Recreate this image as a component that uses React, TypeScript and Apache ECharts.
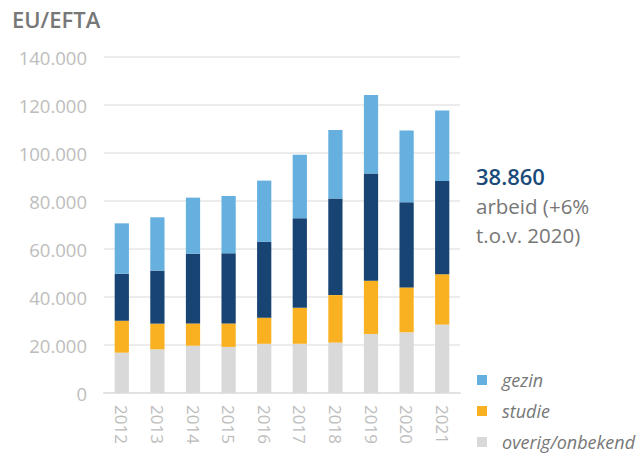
import React, { useEffect, useRef } from "react";
import * as echarts from "echarts";

const years = ["2012", "2013", "2014", "2015", "2016", "2017", "2018", "2019", "2020", "2021"];
const overig = [16800, 18200, 19700, 19200, 20500, 20500, 21000, 24600, 25300, 28500];
const studie = [13300, 10700, 9300, 9800, 10900, 15000, 19800, 22200, 18700, 21000];
const arbeid = [19600, 22100, 29000, 29200, 31600, 37300, 40200, 44700, 35500, 38860];
const gezin = [21000, 22200, 23400, 23900, 25500, 26500, 28600, 32700, 29900, 29400];
const yTicks = [0, 20000, 40000, 60000, 80000, 100000, 120000, 140000];

const FONT = "'Open Sans', 'Noto Sans', sans-serif";

function fmt(v: number): string {
  if (v === 0) return "0";
  return (v / 1000).toFixed(0) + ".000";
}

export default function App() {
  const ref = useRef<HTMLDivElement>(null);
  useEffect(() => {
    if (!ref.current) return;
    const chart = echarts.init(ref.current, null, { renderer: "svg" });
    const mk = (name: string, data: number[], color: string) => ({
      name,
      type: "bar",
      stack: "total",
      data,
      barWidth: "40%",
      itemStyle: { color },
    });
    chart.setOption({
      animation: false,
      textStyle: { fontFamily: FONT },
      grid: { left: 104, right: 183, top: 57, bottom: 60, containLabel: false },
      xAxis: {
        type: "category",
        data: years,
        axisLine: { lineStyle: { color: "#e2e2e2", width: 2 } },
        axisTick: { show: false },
        axisLabel: { rotate: -90, color: "#bdbdbd", fontSize: 17, margin: 12, fontFamily: FONT },
      },
      yAxis: {
        type: "value",
        min: yTicks[0],
        max: yTicks[yTicks.length - 1],
        interval: 20000,
        axisLine: { show: false },
        axisTick: { show: false },
        splitLine: { lineStyle: { color: "#e6e6e6", width: 1.5 } },
        axisLabel: { color: "#bdbdbd", fontSize: 18.5, margin: 17, formatter: (v: number) => fmt(v), fontFamily: FONT },
      },
      legend: {
        orient: "vertical",
        left: 477,
        top: 369,
        padding: 0,
        itemWidth: 10,
        itemHeight: 10,
        itemGap: 9,
        icon: "rect",
        data: ["gezin", "studie", "overig/onbekend"],
        textStyle: { color: "#777", fontStyle: "italic", fontSize: 18, lineHeight: 22, fontFamily: FONT, padding: [0, 0, 0, 10] },
      },
      graphic: [
        { type: "text", left: 12, top: 8, style: { text: "EU/EFTA", fontSize: 22, fontWeight: 600, fill: "#777", fontFamily: FONT } },
        { type: "text", left: 476, top: 165, style: { text: "38.860", fontSize: 22, fontWeight: 600, fill: "#1a4a7a", fontFamily: FONT } },
        { type: "text", left: 476, top: 195, style: { text: "arbeid (+6%", fontSize: 20.5, fill: "#777", fontFamily: FONT } },
        { type: "text", left: 476, top: 224, style: { text: "t.o.v. 2020)", fontSize: 20.5, fill: "#777", fontFamily: FONT } },
      ],
      series: [
        mk("overig/onbekend", overig, "#d9d9d9"),
        mk("studie", studie, "#f9b122"),
        mk("arbeid", arbeid, "#174473"),
        mk("gezin", gezin, "#65b0de"),
      ],
    });
    return () => chart.dispose();
  }, []);
  return <div ref={ref} style={{ width: 643, height: 453, position: "absolute", left: 0, top: 0 }} />;
}
